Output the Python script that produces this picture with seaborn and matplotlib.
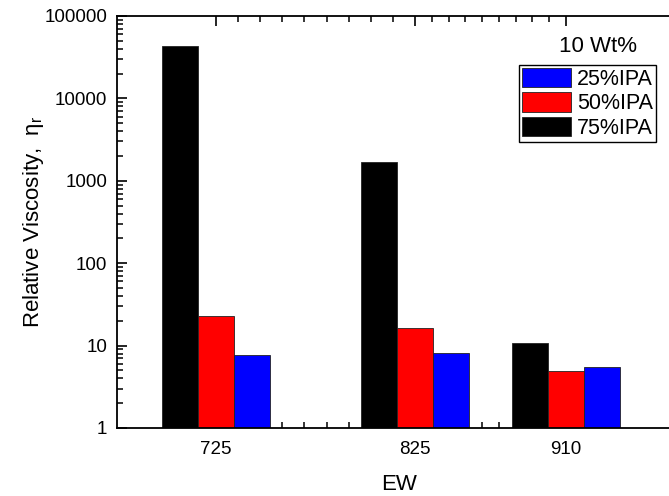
import numpy as np
import pandas as pd
import matplotlib
matplotlib.use("Agg")
import matplotlib.pyplot as plt
import seaborn as sns
from matplotlib.patches import Patch
from matplotlib.ticker import FixedLocator, NullFormatter, FixedFormatter

# ---- data ----
ew = [725, 825, 910]
ipa_levels = ["75%IPA", "50%IPA", "25%IPA"]
visc_75 = [42800, 1675, 10.7]
visc_50 = [22.6, 16.3, 4.98]
visc_25 = [7.73, 8.24, 5.52]
legend_order = ["25%IPA", "50%IPA", "75%IPA"]
ytick_vals = [1, 10, 100, 1000, 10000, 100000]
ytick_labels = ["1", "10", "100", "1000", "10000", "100000"]

colors = {"75%IPA": "#000000", "50%IPA": "#ff0000", "25%IPA": "#0000ff"}

rows = []
for lvl, vals in zip(ipa_levels, [visc_75, visc_50, visc_25]):
    for e, v in zip(ew, vals):
        rows.append({"EW": e, "IPA": lvl, "visc": v})
df = pd.DataFrame(rows)

sns.set_style("white")
plt.rcParams["font.family"] = ["Liberation Sans", "DejaVu Sans"]
plt.rcParams["mathtext.fontset"] = "custom"
plt.rcParams["mathtext.rm"] = "Liberation Sans"
plt.rcParams["mathtext.it"] = "Liberation Sans"
plt.rcParams["text.color"] = "black"
plt.rcParams["axes.labelcolor"] = "black"
plt.rcParams["xtick.color"] = "black"
plt.rcParams["ytick.color"] = "black"

W, H = 669, 496
fig = plt.figure(figsize=(W / 100, H / 100), dpi=100)
left_px, right_px, top_px, bot_px = 117, 682, 16, 428
ax = fig.add_axes([left_px / W, 1 - bot_px / H, (right_px - left_px) / W, (bot_px - top_px) / H])
ax.set_xscale("log")
ax.set_yscale("log")

sns.barplot(data=df, x="EW", y="visc", hue="IPA", hue_order=ipa_levels,
            palette=colors, native_scale=True, errorbar=None, width=0.709,
            edgecolor="#222222", linewidth=0.6, saturation=1, legend=False, ax=ax)

# x limits (log space)
l725 = np.log10(725)
ppd = 199 / (np.log10(825) - l725)  # px per decade
xmin = 10 ** (l725 - (216 - left_px) / ppd)
xmax = 10 ** (l725 + (right_px - 216) / ppd)
ax.set_xlim(xmin, xmax)
ax.set_ylim(1, 100000)

ax.xaxis.set_major_locator(FixedLocator(ew))
ax.xaxis.set_major_formatter(FixedFormatter([str(e) for e in ew]))
lg = np.log10(ew)
minors = []
for a, b in zip(lg[:-1], lg[1:]):
    for k in range(1, 9):
        minors.append(10 ** (a + (b - a) * k / 9))
ax.xaxis.set_minor_locator(FixedLocator(minors))
ax.xaxis.set_minor_formatter(NullFormatter())

ax.yaxis.set_major_locator(FixedLocator(ytick_vals))
ax.yaxis.set_major_formatter(FixedFormatter(ytick_labels))
ymin = [m * 10 ** d for d in range(0, 5) for m in range(2, 10)]
ax.yaxis.set_minor_locator(FixedLocator(ymin))
ax.yaxis.set_minor_formatter(NullFormatter())

ax.tick_params(which="both", direction="in", top=True, right=True, bottom=True, left=True,
               color="black", labelcolor="black")
ax.tick_params(which="major", length=7, width=1.2, labelsize=13.5)
ax.tick_params(which="minor", length=4, width=1.1)
ax.tick_params(axis="y", which="major", pad=7)
ax.tick_params(axis="x", which="major", pad=9)
ax.set_axisbelow(True)
for s in ax.spines.values():
    s.set_visible(True)
    s.set_color("black")
    s.set_linewidth(1.3)

ax.set_xlabel("EW", fontsize=16, labelpad=12, color="black")
ax.set_ylabel("Relative Viscosity,  $\\mathrm{\\eta}_{\\mathrm{r}}$", fontsize=16,
              labelpad=-1, color="black")

handles = [Patch(facecolor=colors[l], edgecolor="#222222", linewidth=0.6) for l in legend_order]
leg = ax.legend(handles, legend_order, loc="upper left",
                bbox_to_anchor=(519 / W, 1 - 65 / H), bbox_transform=fig.transFigure,
                fontsize=15.5, frameon=True, fancybox=False, edgecolor="black",
                framealpha=1, borderpad=0.15, labelspacing=0.1, handlelength=2.25,
                handleheight=1.0, handletextpad=0.3, borderaxespad=0)
leg.get_frame().set_linewidth(1.0)
for t in leg.get_texts():
    t.set_color("black")

fig.text(598 / W, 1 - 46 / H, "10 Wt%", fontsize=16, ha="center", va="center", color="black")

fig.savefig("out.png", dpi=100)
